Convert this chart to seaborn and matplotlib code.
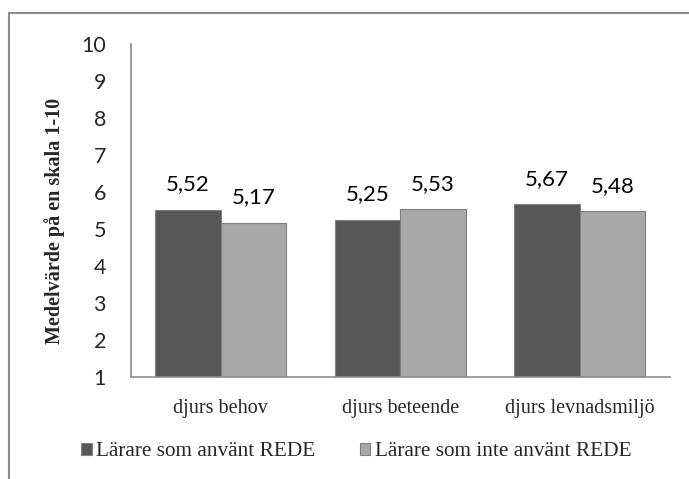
import matplotlib
matplotlib.use("Agg")
import matplotlib.pyplot as plt
from matplotlib.patches import Rectangle
import seaborn as sns
import pandas as pd

categories = ["djurs behov", "djurs beteende", "djurs levnadsmiljö"]
series = ["Lärare som använt REDE", "Lärare som inte använt REDE"]
used_rede = [5.52, 5.25, 5.67]
not_used_rede = [5.17, 5.53, 5.48]
y_ticks = list(range(1, 11))

df = pd.DataFrame({
    "kategori": categories * 2,
    "grupp": [series[0]] * 3 + [series[1]] * 3,
    "varde": used_rede + not_used_rede,
})

sns.set_style("white")
fig = plt.figure(figsize=(6.89, 4.79), dpi=100)
ax = fig.add_axes([0.190, 0.213, 0.782, 0.695])

# outer chart frame (right and bottom edges fall outside the image)
fig.patches.append(Rectangle((9 / 689, -0.1), 1.2, 1 - 13 / 479 + 0.1,
                             transform=fig.transFigure, fill=False,
                             edgecolor="#8c8c8c", linewidth=1.5))

colors = ["#575757", "#a8a8a8"]
sns.barplot(data=df, x="kategori", y="varde", hue="grupp", palette=colors,
            saturation=1, width=0.73, ax=ax, edgecolor="#808080",
            linewidth=0.8)

for container in ax.containers:
    labels = [f"{v:.2f}".replace(".", ",") for v in container.datavalues]
    ax.bar_label(container, labels=labels, padding=11, fontsize=16,
                 family="Lato", color="black")

ax.set_ylim(1, 10)
ax.set_yticks(y_ticks)
ax.set_yticklabels([str(t) for t in y_ticks], family="Lato", fontsize=15.5)
ax.tick_params(axis="y", length=0, pad=18)
ax.tick_params(axis="x", length=0, pad=16)
for lab in ax.get_xticklabels():
    lab.set_family("Liberation Serif")
    lab.set_fontsize(14.5)

ax.set_xlabel("")
ax.set_ylabel("Medelvärde på en skala 1-10", family="Liberation Serif",
              fontsize=14.5, fontweight="bold")
ax.yaxis.set_label_coords(-0.122, 0.47)

for side in ["top", "right"]:
    ax.spines[side].set_visible(False)
for side in ["left", "bottom"]:
    ax.spines[side].set_color("#8c8c8c")
    ax.spines[side].set_linewidth(1.2)

ax.legend(loc="center", bbox_to_anchor=(356 / 689, 1 - 452 / 479),
          bbox_transform=fig.transFigure, ncol=2, frameon=False,
          prop={"family": "Liberation Serif", "size": 15.3},
          handlelength=0.5, handleheight=0.5, handletextpad=0.2,
          columnspacing=2.1)

fig.savefig("out.png", dpi=100)
